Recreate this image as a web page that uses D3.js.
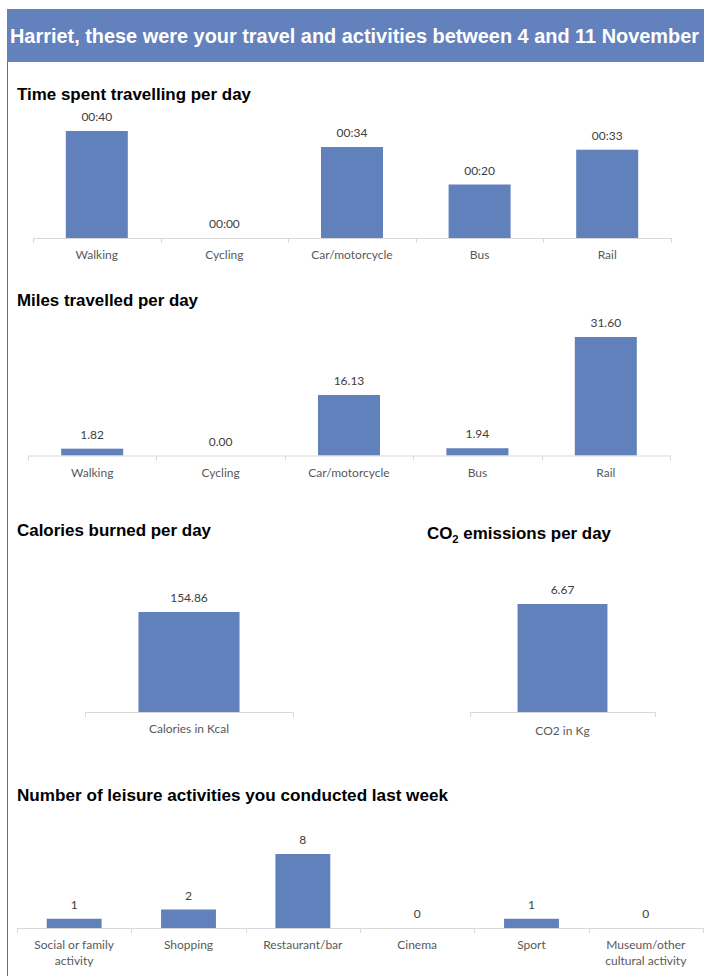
<!DOCTYPE html>
<html>
<head>
<meta charset="utf-8">
<script src="https://cdn.jsdelivr.net/npm/d3@7"></script>
<style>
  html, body { margin: 0; padding: 0; background: #fff; }
  svg { display: block; }
</style>
</head>
<body>
<script>
// ---------- DATA ----------
const headerText = "Harriet, these were your travel and activities between 4 and 11 November";

const modes = ["Walking", "Cycling", "Car/motorcycle", "Bus", "Rail"];
const timeMinutes = [40, 0, 34, 20, 33];
const milesPerDay = [1.82, 0.00, 16.13, 1.94, 31.60];

const calorieCategories = ["Calories in Kcal"];
const calorieValues = [154.86];

const co2Categories = ["CO2 in Kg"];
const co2Values = [6.67];

const leisureCategories = [["Social or family", "activity"], ["Shopping"], ["Restaurant/bar"], ["Cinema"], ["Sport"], ["Museum/other", "cultural activity"]];
const leisureCounts = [1, 2, 8, 0, 1, 0];

// ---------- STYLE ----------
const W = 704, H = 976;
const barColor = "#6181bc";
const headerColor = "#6382bd";
const axisColor = "#d9d9d9";
const labelColor = "#595959";
const valueColor = "#404040";
const labelFont = "Lato, 'Open Sans', sans-serif";
const titleFont = "'Liberation Sans', Arial, sans-serif";

const svg = d3.select("body").append("svg").attr("width", W).attr("height", H);

// frame
svg.append("line").attr("x1", 7.5).attr("x2", 7.5).attr("y1", 9).attr("y2", H)
  .attr("stroke", "#4a72c0").attr("stroke-width", 1);
svg.append("rect").attr("x", 7).attr("y", 9).attr("width", W - 7).attr("height", 53)
  .attr("fill", headerColor);
svg.append("text").attr("x", 10).attr("y", 43)
  .attr("font-family", titleFont).attr("font-weight", "bold").attr("font-size", 19.5)
  .attr("fill", "#fff").attr("textLength", 689).attr("lengthAdjust", "spacingAndGlyphs")
  .text(headerText);

function title(txt, x, y, len, sub) {
  const t = svg.append("text").attr("x", x).attr("y", y)
    .attr("font-family", titleFont).attr("font-weight", "bold").attr("font-size", 16.5)
    .attr("fill", "#000").attr("textLength", len).attr("lengthAdjust", "spacingAndGlyphs");
  if (sub) {
    t.append("tspan").text("CO");
    t.append("tspan").attr("font-size", 11).attr("dy", 4).text("2");
    t.append("tspan").attr("dy", -4).text(" emissions per day");
  } else t.text(txt);
}

title("Time spent travelling per day", 17, 100, 234);
title("Miles travelled per day", 17, 306, 181);
title("Calories burned per day", 17, 536, 194);
title("", 427, 539, 184, true);
title("Number of leisure activities you conducted last week", 17, 801, 431);

// generic bar chart
function barChart(opts) {
  const { cats, vals, x0, x1, axisY, yMax, yTop, barFrac, fmt, labelDy } = opts;
  const keys = cats.map((c, i) => i);
  const x = d3.scaleBand().domain(keys).range([x0, x1]).padding(0);
  const y = d3.scaleLinear().domain([0, yMax]).range([axisY, yTop]);
  const g = svg.append("g");
  const bw = x.bandwidth() * barFrac;

  g.selectAll("rect").data(vals).join("rect")
    .attr("x", (d, i) => x(i) + (x.bandwidth() - bw) / 2)
    .attr("width", bw)
    .attr("y", d => y(d))
    .attr("height", d => axisY - y(d))
    .attr("fill", barColor);

  // axis line
  g.append("line").attr("x1", x0).attr("x2", x1).attr("y1", axisY + 0.5).attr("y2", axisY + 0.5)
    .attr("stroke", axisColor).attr("stroke-width", 1);
  const ticks = keys.map(i => x(i)).concat([x1]);
  g.selectAll("line.tick").data(ticks).join("line").attr("class", "tick")
    .attr("x1", d => Math.round(d) + 0.5).attr("x2", d => Math.round(d) + 0.5)
    .attr("y1", axisY).attr("y2", axisY + 5)
    .attr("stroke", axisColor).attr("stroke-width", 1);

  // value labels
  g.selectAll("text.val").data(vals).join("text").attr("class", "val")
    .attr("x", (d, i) => x(i) + x.bandwidth() / 2)
    .attr("y", d => y(d) - 10)
    .attr("text-anchor", "middle")
    .attr("font-family", labelFont).attr("font-size", 12).attr("fill", valueColor)
    .text(fmt);

  // category labels
  g.selectAll("text.cat").data(cats).join("text").attr("class", "cat")
    .attr("x", (d, i) => x(i) + x.bandwidth() / 2)
    .attr("y", axisY + (labelDy || 21))
    .attr("text-anchor", "middle")
    .attr("font-family", labelFont).attr("font-size", 12).attr("fill", labelColor)
    .each(function (d) {
      const lines = Array.isArray(d) ? d : [d];
      const t = d3.select(this);
      lines.forEach((ln, k) => {
        t.append("tspan").attr("x", t.attr("x")).attr("dy", k === 0 ? 0 : 15.5).text(ln);
      });
    });
}

const fmtTime = d => "00:" + String(d).padStart(2, "0");
const fmt2 = d => d.toFixed(2);

barChart({ cats: modes, vals: timeMinutes, x0: 33, x1: 671, axisY: 238, yMax: 40, yTop: 131, barFrac: 0.486, fmt: fmtTime });
barChart({ cats: modes, vals: milesPerDay, x0: 28, x1: 670, axisY: 455.5, yMax: 31.6, yTop: 337, barFrac: 0.483, fmt: fmt2 });
barChart({ cats: calorieCategories, vals: calorieValues, x0: 85, x1: 293, axisY: 712, yMax: 154.86, yTop: 612, barFrac: 0.486, fmt: fmt2 });
barChart({ cats: co2Categories, vals: co2Values, x0: 470, x1: 655, axisY: 712, yMax: 6.67, yTop: 604, barFrac: 0.486, fmt: fmt2, labelDy: 23 });
barChart({ cats: leisureCategories, vals: leisureCounts, x0: 17, x1: 703, axisY: 928, yMax: 8, yTop: 854, barFrac: 0.48, fmt: d => String(d), labelDy: 21 });
</script>
</body>
</html>
